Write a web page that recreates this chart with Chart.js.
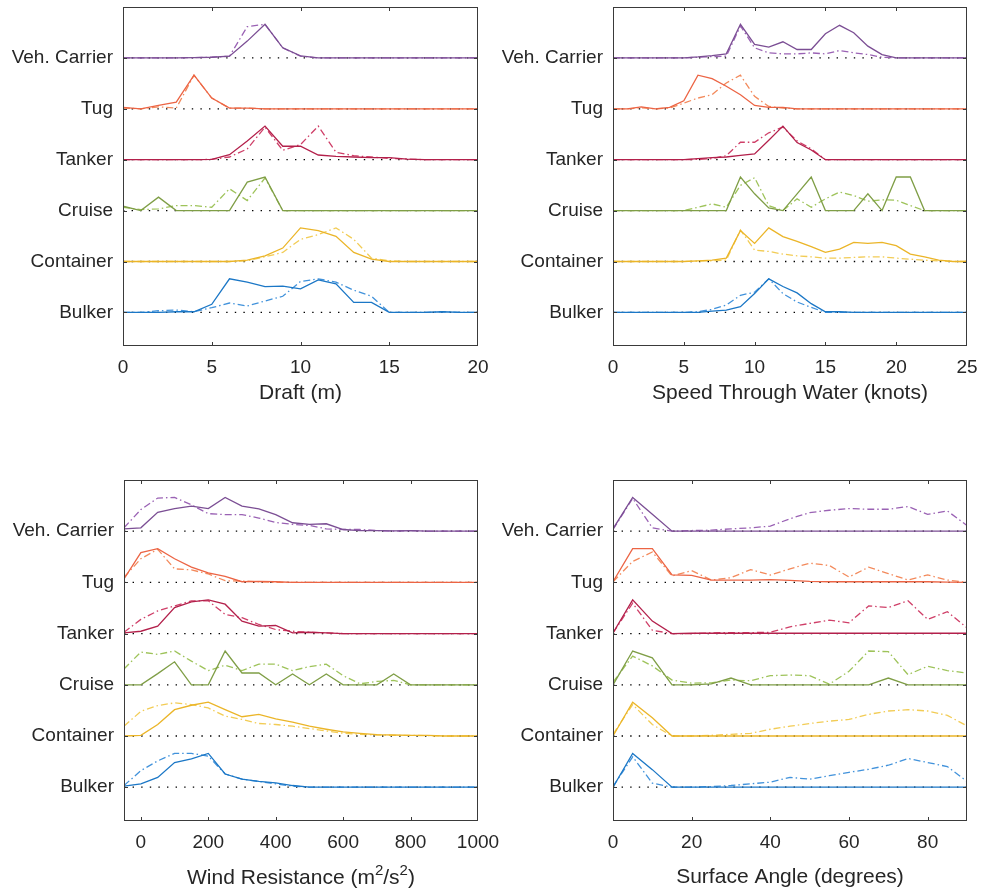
<!DOCTYPE html>
<html>
<head>
<meta charset="utf-8">
<script src="https://cdn.jsdelivr.net/npm/chart.js@4.4.0/dist/chart.umd.min.js"></script>
<style>
  body { margin: 0; background: #fff; }
  #page { position: relative; width: 984px; height: 892px; }
  canvas { position: absolute; }
</style>
</head>
<body>
<div id="page">
  <canvas id="draftChart" width="512" height="420" style="left:0;top:0;width:512px;height:420px"></canvas>
  <canvas id="speedChart" width="492" height="420" style="left:492px;top:0;width:492px;height:420px"></canvas>
  <canvas id="windChart" width="512" height="419" style="left:0;top:473px;width:512px;height:419px"></canvas>
  <canvas id="angleChart" width="492" height="419" style="left:492px;top:473px;width:492px;height:419px"></canvas>
</div>
<script>
// ship types, top row first
const CATEGORIES = ["Veh. Carrier", "Tug", "Tanker", "Cruise", "Container", "Bulker"];

// relative curve heights (1 = tallest), one row per ship type
const DRAFT_X = [0, 1, 2, 3, 4, 5, 6, 7, 8, 9, 10, 11, 12, 13, 14, 15, 16, 17, 18, 19, 20];
const DRAFT_TICKS = [0, 5, 10, 15, 20];
const DRAFT_SOLID = [
  [0, 0, 0, 0, 0.01, 0.02, 0.05, 0.5, 1, 0.3, 0.06, 0, 0, 0, 0, 0, 0, 0, 0, 0, 0],
  [0.04, 0, 0.1, 0.2, 1, 0.32, 0.02, 0.02, 0, 0, 0, 0, 0, 0, 0, 0, 0, 0, 0, 0, 0],
  [0, 0, 0, 0, 0, 0.01, 0.15, 0.56, 1, 0.4, 0.4, 0.14, 0.1, 0.08, 0.06, 0.06, 0.02, 0, 0, 0, 0],
  [0.13, 0, 0.4, 0, 0, 0, 0, 0.85, 1, 0, 0, 0, 0, 0, 0, 0, 0, 0, 0, 0, 0],
  [0, 0, 0, 0, 0, 0, 0, 0.04, 0.17, 0.4, 1, 0.92, 0.75, 0.27, 0.07, 0, 0, 0, 0, 0, 0],
  [0, 0, 0, 0.02, 0.02, 0.24, 1, 0.9, 0.77, 0.78, 0.7, 0.97, 0.85, 0.3, 0.3, 0, 0, 0, 0.02, 0, 0],
];
const DRAFT_DASHED = [
  [0, 0, 0, 0, 0.01, 0.02, 0.05, 0.93, 1, 0.3, 0.05, 0, 0, 0, 0, 0, 0, 0, 0, 0, 0],
  [0.02, 0, 0.06, 0.02, 1, 0.32, 0.02, 0.02, 0, 0, 0, 0, 0, 0, 0, 0, 0, 0, 0, 0, 0],
  [0, 0, 0, 0, 0, 0.01, 0.08, 0.32, 0.97, 0.28, 0.45, 1, 0.22, 0.12, 0.08, 0.04, 0.02, 0, 0, 0, 0],
  [0.1, 0.03, 0.05, 0.15, 0.15, 0.1, 0.65, 0.3, 0.97, 0, 0, 0, 0, 0, 0, 0, 0, 0, 0, 0, 0],
  [0, 0, 0, 0, 0, 0, 0, 0.02, 0.14, 0.27, 0.66, 0.8, 1, 0.66, 0.1, 0.02, 0, 0, 0, 0, 0],
  [0, 0, 0.05, 0.07, 0.02, 0.14, 0.28, 0.19, 0.34, 0.48, 0.92, 1, 0.9, 0.66, 0.48, 0, 0, 0, 0.02, 0, 0],
];

const SPEED_X = [0, 1, 2, 3, 4, 5, 6, 7, 8, 9, 10, 11, 12, 13, 14, 15, 16, 17, 18, 19, 20, 21, 22, 23, 24, 25];
const SPEED_TICKS = [0, 5, 10, 15, 20, 25];
const SPEED_SOLID = [
  [0, 0, 0, 0, 0, 0, 0.03, 0.07, 0.12, 1, 0.4, 0.32, 0.48, 0.25, 0.25, 0.72, 0.97, 0.75, 0.35, 0.1, 0, 0, 0, 0, 0, 0],
  [0, 0, 0.06, 0, 0.04, 0.24, 1, 0.9, 0.67, 0.42, 0.1, 0.04, 0.04, 0, 0, 0, 0, 0, 0, 0, 0, 0, 0, 0, 0, 0],
  [0, 0, 0, 0, 0, 0, 0.03, 0.06, 0.08, 0.13, 0.17, 0.58, 1, 0.51, 0.29, 0, 0, 0, 0, 0, 0, 0, 0, 0, 0, 0],
  [0, 0, 0, 0, 0, 0, 0, 0, 0, 1, 0.5, 0.08, 0, 0.5, 1, 0, 0, 0, 0.5, 0, 1, 1, 0, 0, 0, 0],
  [0, 0, 0, 0, 0, 0, 0.02, 0.04, 0.1, 0.92, 0.54, 1, 0.74, 0.6, 0.44, 0.27, 0.37, 0.57, 0.54, 0.57, 0.47, 0.22, 0.14, 0.04, 0, 0],
  [0, 0, 0, 0, 0, 0, 0, 0.04, 0.07, 0.17, 0.56, 1, 0.77, 0.58, 0.26, 0.02, 0.02, 0, 0, 0, 0, 0, 0, 0, 0, 0],
];
const SPEED_DASHED = [
  [0, 0, 0, 0, 0, 0, 0.02, 0.04, 0.05, 0.95, 0.3, 0.15, 0.12, 0.12, 0.15, 0.12, 0.22, 0.15, 0.1, 0.02, 0, 0, 0, 0, 0, 0],
  [0, 0, 0.03, 0, 0.02, 0.17, 0.32, 0.42, 0.77, 1, 0.37, 0.07, 0.02, 0, 0, 0, 0, 0, 0, 0, 0, 0, 0, 0, 0, 0],
  [0, 0, 0, 0, 0, 0, 0.01, 0.03, 0.12, 0.52, 0.52, 0.8, 0.97, 0.56, 0.32, 0, 0, 0, 0, 0, 0, 0, 0, 0, 0, 0],
  [0, 0, 0, 0, 0, 0, 0.1, 0.2, 0.1, 0.75, 0.98, 0.15, 0, 0.35, 0.1, 0.35, 0.55, 0.45, 0.28, 0.32, 0.31, 0.15, 0, 0, 0, 0],
  [0, 0, 0, 0, 0, 0, 0.01, 0.02, 0.04, 0.94, 0.34, 0.3, 0.22, 0.17, 0.14, 0.1, 0.1, 0.12, 0.14, 0.14, 0.1, 0.07, 0.04, 0.02, 0, 0],
  [0, 0, 0, 0, 0, 0, 0.02, 0.09, 0.22, 0.51, 0.6, 1, 0.56, 0.31, 0.15, 0, 0, 0, 0, 0, 0, 0, 0, 0, 0, 0],
];

const WIND_X = [-50, 0, 50, 100, 150, 200, 250, 300, 350, 400, 450, 500, 550, 600, 650, 700, 750, 800, 850, 900, 950, 1000];
const WIND_TICKS = [0, 200, 400, 600, 800, 1000];
const WIND_SOLID = [
  [0.07, 0.1, 0.56, 0.67, 0.74, 0.67, 1, 0.74, 0.66, 0.49, 0.25, 0.2, 0.22, 0.05, 0.02, 0.02, 0.01, 0.02, 0, 0, 0, 0],
  [0.1, 0.88, 1, 0.7, 0.45, 0.28, 0.18, 0.02, 0.03, 0.02, 0, 0, 0, 0, 0, 0, 0, 0, 0, 0, 0, 0],
  [0.02, 0.07, 0.22, 0.77, 0.94, 1, 0.87, 0.37, 0.22, 0.24, 0.02, 0.04, 0.02, 0, 0, 0, 0, 0, 0, 0, 0, 0],
  [0, 0, 0.33, 0.68, 0, 0, 1, 0.35, 0.35, 0, 0.32, 0, 0.32, 0, 0, 0, 0.32, 0, 0, 0, 0, 0],
  [0, 0.02, 0.34, 0.78, 0.91, 1, 0.78, 0.57, 0.64, 0.51, 0.41, 0.29, 0.2, 0.12, 0.08, 0.04, 0.03, 0.02, 0.02, 0, 0, 0],
  [0.03, 0.1, 0.29, 0.73, 0.84, 1, 0.39, 0.24, 0.17, 0.13, 0.05, 0, 0, 0, 0, 0, 0, 0, 0, 0, 0, 0],
];
const WIND_DASHED = [
  [0.1, 0.64, 0.98, 1, 0.78, 0.52, 0.49, 0.49, 0.39, 0.26, 0.2, 0.17, 0.07, 0.05, 0.05, 0.02, 0, 0.02, 0, 0, 0, 0],
  [0.15, 0.7, 0.98, 0.4, 0.37, 0.25, 0.05, 0.04, 0.02, 0, 0, 0, 0, 0, 0, 0, 0, 0, 0, 0, 0, 0],
  [0.04, 0.42, 0.67, 0.82, 0.97, 0.97, 0.57, 0.47, 0.27, 0.12, 0.07, 0.04, 0.02, 0, 0, 0, 0, 0, 0, 0, 0, 0],
  [0.47, 0.97, 0.9, 1, 0.7, 0.42, 0.58, 0.42, 0.61, 0.61, 0.42, 0.54, 0.61, 0.27, 0.03, 0.1, 0.13, 0, 0, 0, 0, 0],
  [0.29, 0.73, 0.9, 0.98, 0.93, 0.83, 0.59, 0.49, 0.37, 0.34, 0.29, 0.22, 0.15, 0.08, 0.05, 0.03, 0.02, 0.02, 0.01, 0, 0, 0],
  [0.05, 0.49, 0.78, 1, 1, 0.92, 0.39, 0.24, 0.17, 0.1, 0.03, 0, 0, 0, 0, 0, 0, 0, 0, 0, 0, 0],
];

const ANGLE_X = [0, 5, 10, 15, 20, 25, 30, 35, 40, 45, 50, 55, 60, 65, 70, 75, 80, 85, 90];
const ANGLE_TICKS = [0, 20, 40, 60, 80];
const ANGLE_SOLID = [
  [0.07, 1, 0.5, 0, 0, 0, 0, 0, 0, 0, 0, 0, 0, 0, 0, 0, 0, 0, 0],
  [0.02, 1, 1, 0.22, 0.21, 0.07, 0.07, 0.07, 0.08, 0.06, 0.03, 0.02, 0.02, 0.02, 0.02, 0.02, 0.02, 0.01, 0],
  [0.02, 1, 0.37, 0, 0.01, 0.01, 0.01, 0.01, 0.01, 0.01, 0.01, 0.01, 0.01, 0.01, 0.01, 0.01, 0.01, 0.01, 0.01],
  [0, 1, 0.8, 0, 0, 0.03, 0.2, 0, 0, 0, 0, 0, 0, 0, 0.2, 0, 0, 0, 0],
  [0, 1, 0.54, 0, 0, 0, 0, 0, 0, 0, 0, 0, 0, 0, 0, 0, 0, 0, 0],
  [0, 1, 0.52, 0, 0, 0, 0, 0, 0, 0, 0, 0, 0, 0, 0, 0, 0, 0, 0],
];
const ANGLE_DASHED = [
  [0.05, 0.97, 0.1, 0, 0.02, 0.03, 0.07, 0.1, 0.15, 0.37, 0.55, 0.62, 0.67, 0.65, 0.65, 0.73, 0.5, 0.6, 0.17],
  [0.02, 0.62, 0.9, 0.19, 0.35, 0.07, 0.14, 0.38, 0.22, 0.4, 0.57, 0.5, 0.16, 0.45, 0.26, 0.07, 0.22, 0.07, 0],
  [0.02, 0.9, 0.1, 0, 0, 0.02, 0.03, 0.03, 0.04, 0.2, 0.3, 0.4, 0.32, 0.82, 0.77, 0.97, 0.42, 0.65, 0.17],
  [0.08, 0.85, 0.56, 0.14, 0.05, 0.06, 0.14, 0.12, 0.27, 0.29, 0.27, 0.02, 0.4, 1, 0.98, 0.3, 0.55, 0.42, 0.35],
  [0.05, 0.93, 0.34, 0, 0, 0.02, 0.05, 0.08, 0.2, 0.29, 0.37, 0.44, 0.49, 0.64, 0.74, 0.78, 0.74, 0.61, 0.3],
  [0.02, 0.9, 0.12, 0, 0, 0.02, 0.05, 0.1, 0.15, 0.29, 0.24, 0.34, 0.44, 0.53, 0.65, 0.85, 0.73, 0.61, 0.17],
];

const SOLID_COLORS = ["#7b4e94", "#ec6444", "#b3204b", "#7f9e46", "#ebb528", "#1b77c6"];
const DASH_COLORS = ["#9a62b4", "#f38a5c", "#cf3f68", "#9ec35a", "#f2cc55", "#4192db"];
const TEXT_COLOR = "#262626";
const FONT = "'Liberation Sans', Arial, Helvetica, sans-serif";
const PEAK = 0.66; // height of a full curve, in row spacings

Chart.defaults.font.family = FONT;
Chart.defaults.color = TEXT_COLOR;

const frameTicks = {
  id: "frameTicks",
  afterDraw(chart) {
    const { ctx, chartArea: a, scales } = chart;
    ctx.save();
    ctx.strokeStyle = "#3a3a3a";
    ctx.lineWidth = 1;
    ctx.strokeRect(a.left + 0.5, a.top + 0.5, a.right - a.left - 1, a.bottom - a.top - 1);
    ctx.beginPath();
    scales.x.ticks.forEach((t) => {
      const px = Math.round(scales.x.getPixelForValue(t.value)) + 0.5;
      if (px - a.left < 2 || a.right - px < 2) return;
      ctx.moveTo(px, a.bottom); ctx.lineTo(px, a.bottom - 4);
      ctx.moveTo(px, a.top); ctx.lineTo(px, a.top + 4);
    });
    scales.y.ticks.forEach((t) => {
      const py = Math.round(scales.y.getPixelForValue(t.value)) + 0.5;
      ctx.moveTo(a.left, py); ctx.lineTo(a.left + 4, py);
      ctx.moveTo(a.right, py); ctx.lineTo(a.right - 4, py);
    });
    ctx.stroke();
    ctx.restore();
  },
};

// axis title with raised exponents, e.g. [["Wind Resistance (m"], ["2", true], ...]
const supTitle = {
  id: "supTitle",
  afterDraw(chart, args, opts) {
    if (!opts.parts) return;
    const { ctx, chartArea: a, scales } = chart;
    const big = "21px " + FONT;
    const small = "15px " + FONT;
    ctx.save();
    ctx.fillStyle = TEXT_COLOR;
    ctx.textBaseline = "alphabetic";
    let total = 0;
    opts.parts.forEach(([t, sup]) => { ctx.font = sup ? small : big; total += ctx.measureText(t).width; });
    let x = (a.left + a.right) / 2 - total / 2;
    const y = scales.x.bottom - opts.baselineUp;
    opts.parts.forEach(([t, sup]) => {
      ctx.font = sup ? small : big;
      ctx.fillText(t, x, sup ? y - 9 : y);
      x += ctx.measureText(t).width;
    });
    ctx.restore();
  },
};

// no extra room for overhanging tick labels: the layout padding sets the box
function noOverhang(s) {
  s.paddingTop = 0;
  s.paddingBottom = 0;
  s.paddingLeft = 0;
  s.paddingRight = 0;
}

function buildDatasets(xs, solid, dashed) {
  const sets = [];
  CATEGORIES.forEach((name, i) => {
    const base = CATEGORIES.length - i;
    sets.push({
      label: name,
      data: solid[i].map((h, j) => ({ x: xs[j], y: base + h * PEAK })),
      borderColor: SOLID_COLORS[i],
      borderWidth: 1.3,
      order: 0,
    });
    sets.push({
      label: name + " (dash-dot)",
      data: dashed[i].map((h, j) => ({ x: xs[j], y: base + h * PEAK })),
      borderColor: DASH_COLORS[i],
      borderWidth: 1.3,
      borderDash: [7, 3, 1.5, 3],
      order: 1,
    });
    sets.push({
      label: name + " baseline",
      data: [{ x: xs[0], y: base }, { x: xs[xs.length - 1], y: base }],
      borderColor: "#000",
      borderWidth: 1.3,
      borderDash: [1.4, 7.2],
      order: 2,
    });
  });
  return sets;
}

function makePanel(id, p) {
  new Chart(document.getElementById(id), {
    type: "line",
    data: { datasets: buildDatasets(p.xs, p.solid, p.dashed) },
    options: {
      responsive: false,
      animation: false,
      devicePixelRatio: 1,
      layout: { padding: { top: 7, right: p.padRight, left: 0, bottom: 0 } },
      elements: { point: { radius: 0 }, line: { tension: 0, fill: false } },
      plugins: {
        legend: { display: false },
        tooltip: { enabled: false },
        supTitle: { parts: p.titleParts || null, baselineUp: 8 },
      },
      scales: {
        x: {
          type: "linear",
          min: p.min,
          max: p.max,
          afterBuildTicks: (s) => { s.ticks = p.ticks.map((v) => ({ value: v })); },
          afterFit: (s) => { s.height = p.axisHeight; noOverhang(s); },
          grid: { display: false, drawTicks: false },
          border: { display: false },
          ticks: {
            autoSkip: false, maxRotation: 0, padding: 10, color: TEXT_COLOR, font: { size: 19 },
            callback: (v) => String(v),
          },
          title: {
            display: !p.titleParts, text: p.title, color: TEXT_COLOR,
            font: { size: 21 }, padding: { top: 0, bottom: p.titlePad },
          },
        },
        y: {
          type: "linear",
          min: 0.34,
          max: 7,
          afterBuildTicks: (s) => { s.ticks = CATEGORIES.map((_, i) => ({ value: CATEGORIES.length - i })); },
          afterFit: (s) => { s.width = p.axisWidth; noOverhang(s); },
          grid: { display: false, drawTicks: false },
          border: { display: false },
          ticks: {
            padding: 10,
            color: TEXT_COLOR,
            font: { size: 19 },
            callback: (v) => CATEGORIES[CATEGORIES.length - v],
          },
        },
      },
    },
    plugins: [frameTicks, supTitle],
  });
}

makePanel("draftChart", {
  xs: DRAFT_X, solid: DRAFT_SOLID, dashed: DRAFT_DASHED, ticks: DRAFT_TICKS,
  min: 0, max: 20, title: "Draft (m)",
  axisWidth: 123, padRight: 34, axisHeight: 74, titlePad: 14,
});
makePanel("speedChart", {
  xs: SPEED_X, solid: SPEED_SOLID, dashed: SPEED_DASHED, ticks: SPEED_TICKS,
  min: 0, max: 25, title: "Speed Through Water (knots)",
  axisWidth: 121, padRight: 17, axisHeight: 74, titlePad: 14,
});
makePanel("windChart", {
  xs: WIND_X, solid: WIND_SOLID, dashed: WIND_DASHED, ticks: WIND_TICKS,
  min: -50, max: 1000, title: "Wind Resistance (m2/s2)",
  titleParts: [["Wind Resistance (m"], ["2", true], ["/s"], ["2", true], [")"]],
  axisWidth: 124, padRight: 34, axisHeight: 71, titlePad: 2,
});
makePanel("angleChart", {
  xs: ANGLE_X, solid: ANGLE_SOLID, dashed: ANGLE_DASHED, ticks: ANGLE_TICKS,
  min: 0, max: 90, title: "Surface Angle (degrees)",
  axisWidth: 121, padRight: 17, axisHeight: 71, titlePad: 2,
});
</script>
</body>
</html>
